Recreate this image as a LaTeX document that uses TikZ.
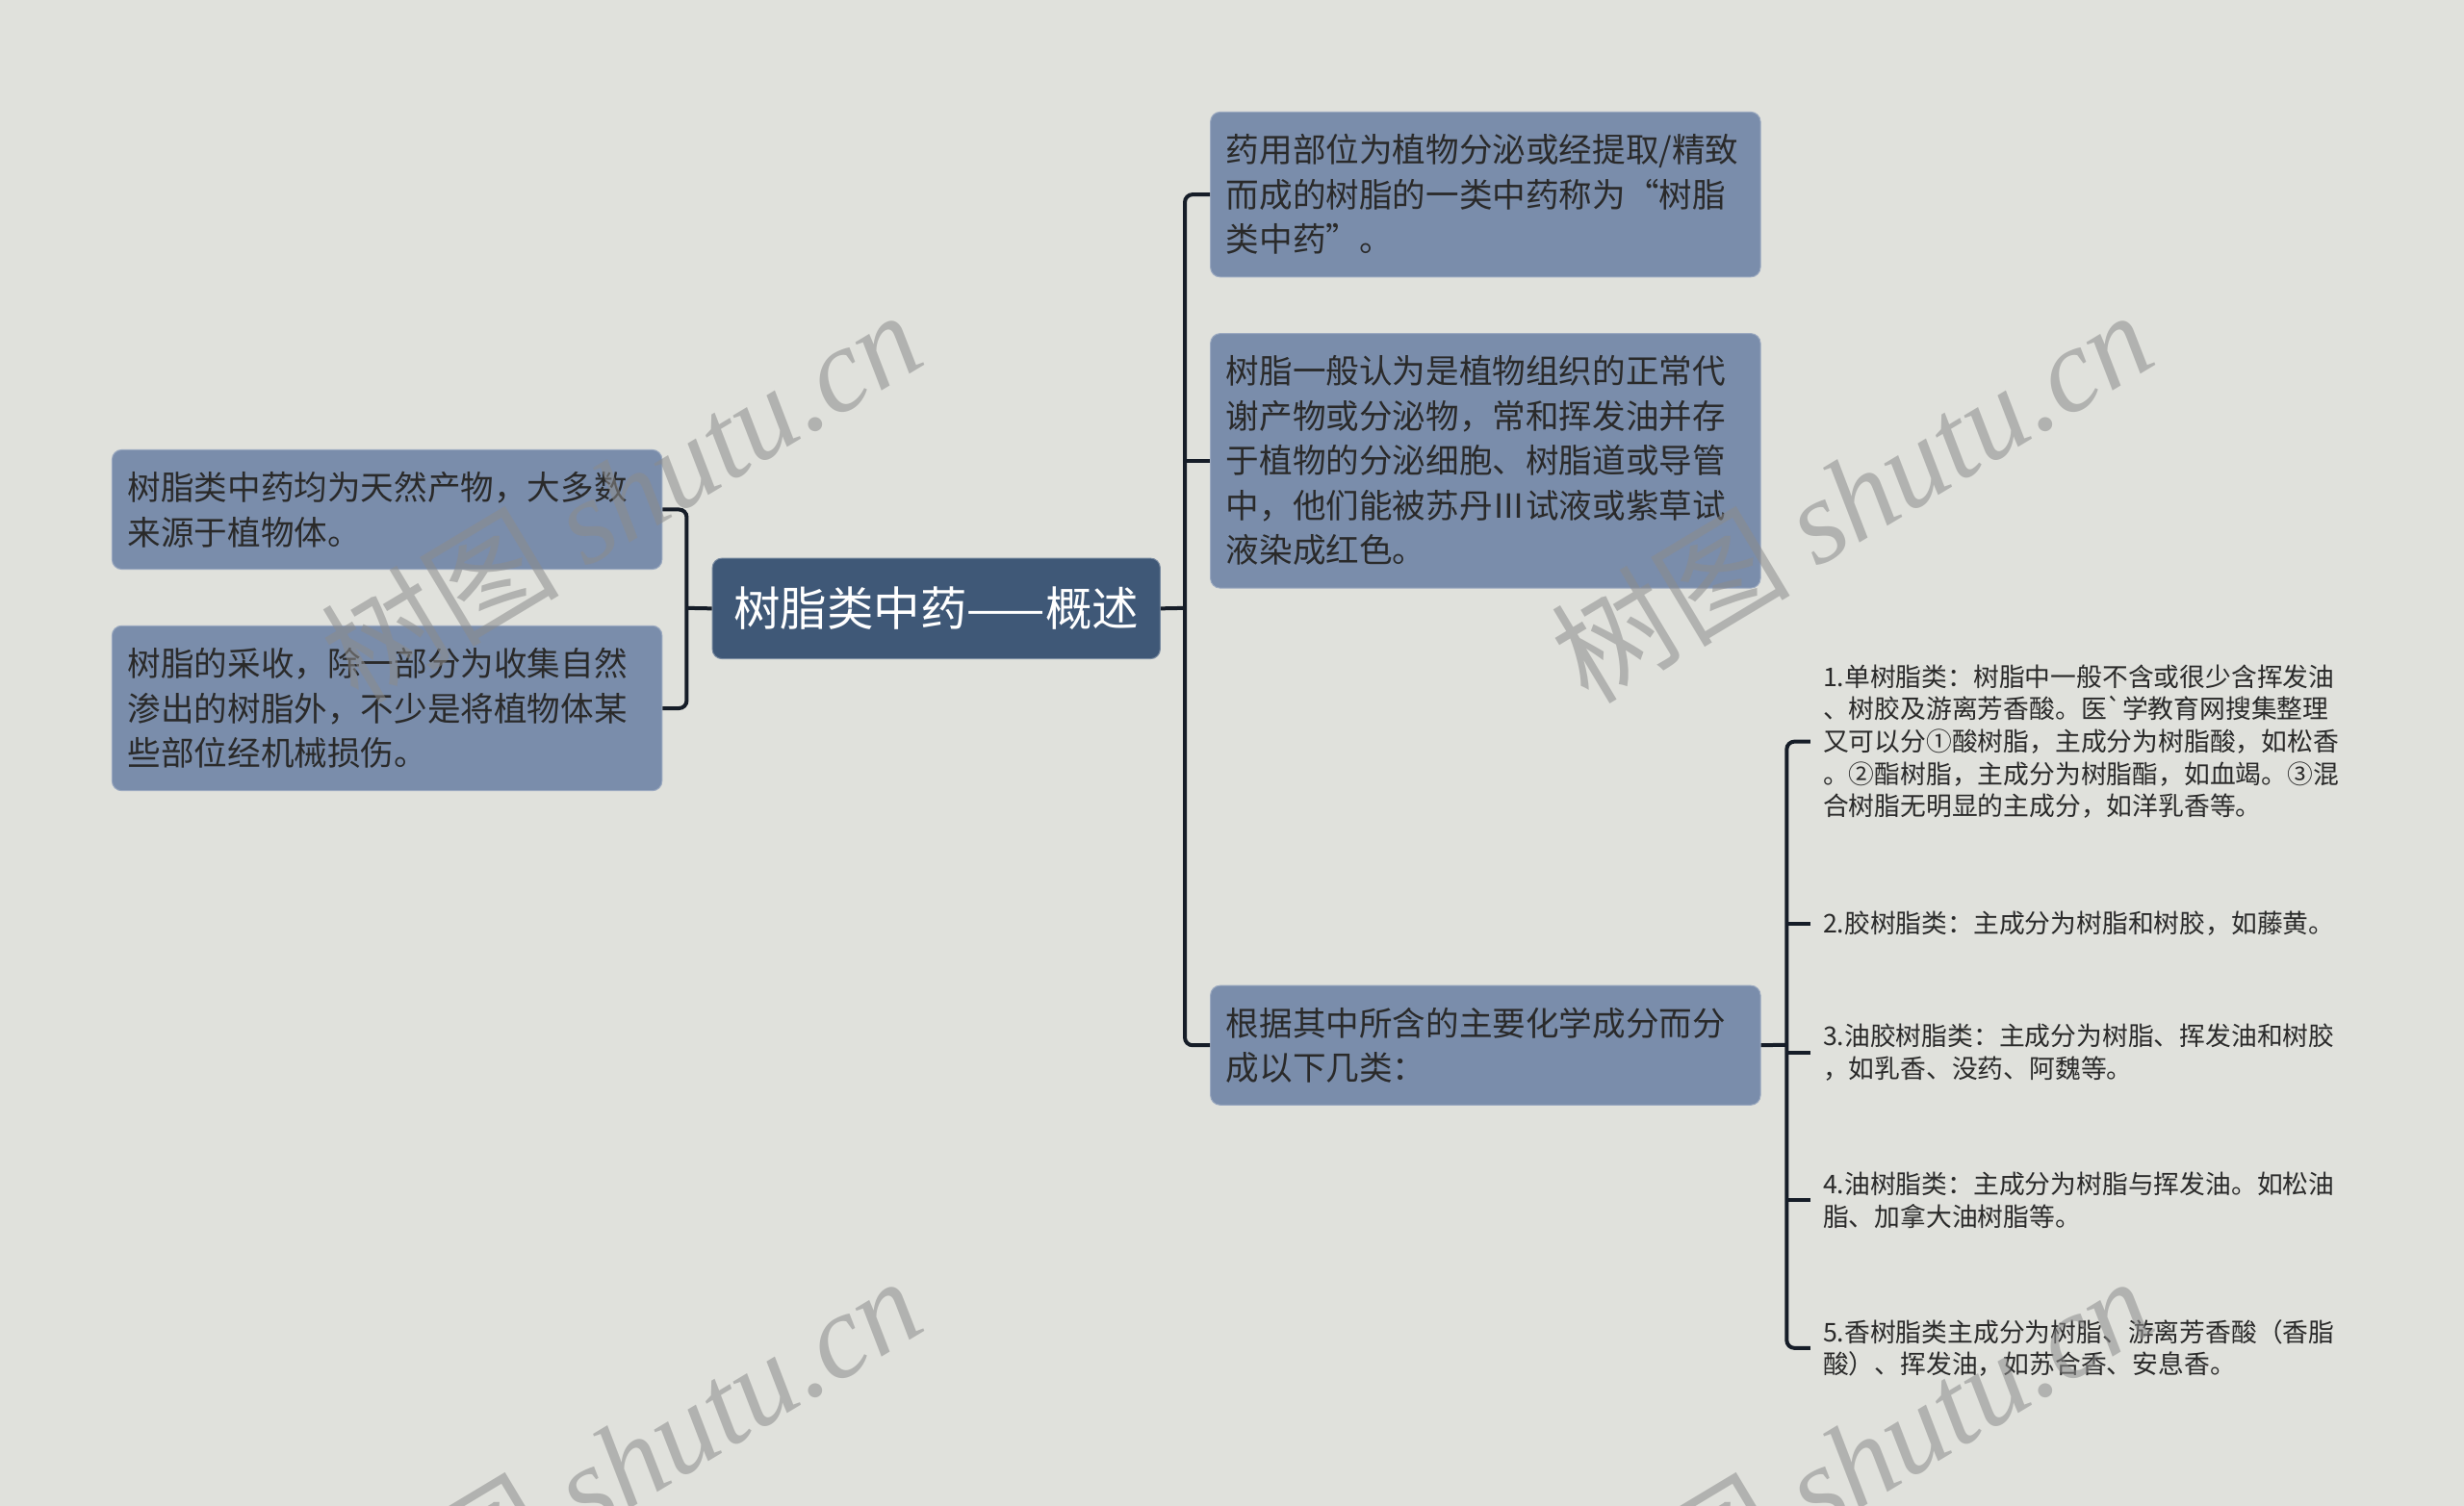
\documentclass[tikz,border=0pt]{standalone}
\usepackage{fontspec}
\newfontfamily\cjk{Noto Sans CJK SC}
\newfontfamily\wmlat{Liberation Serif}
\definecolor{bgc}{HTML}{E0E1DC}
\definecolor{nodec}{HTML}{7A8DAB}
\definecolor{rootc}{HTML}{3F5877}
\definecolor{linec}{HTML}{161D28}
\definecolor{txtc}{HTML}{2A2A2A}
\definecolor{wmc}{HTML}{8C8C8C}
\tikzset{
  topic/.style={rectangle, rounded corners=10pt, fill=nodec, draw=nodec!75!white, line width=1pt,
    text=txtc, font=\cjk\fontsize{34.6pt}{46.5pt}\selectfont, align=left,
    text width=538.8pt, inner xsep=16.3pt, inner ysep=0pt, anchor=north west},
  rootbox/.style={rectangle, rounded corners=10pt, fill=rootc, draw=rootc!70!white, line width=1pt,
    text=white, font=\cjk\fontsize{48.5pt}{55pt}\selectfont,
    minimum width=465.3pt, minimum height=104.5pt, inner sep=0pt, anchor=north west},
  leaf/.style={text=txtc, font=\cjk\fontsize{26.8pt}{33.7pt}\selectfont, align=left,
    anchor=west, inner xsep=13pt, inner ysep=0pt},
  conn/.style={draw=linec, line width=4pt, rounded corners=8pt},
  wm/.style={rotate=31, text=wmc, opacity=0.55, font=\cjk\fontsize{124pt}{124pt}\selectfont, inner sep=0pt}
}
\begin{document}
\begin{tikzpicture}[x=1.6327pt, y=-1.6327pt]
\fill[bgc] (0,0) rectangle (1568,958.5);
\useasboundingbox (0,0) rectangle (1568,958.5);

% root
\node[rootbox] (root) at (453,355) {树脂类中药——概述};

% left topics
\node[topic, minimum height=124.1pt] (l1) at (71,286) {树脂类中药均为天然产物，大多数\\来源于植物体。};
\node[topic, minimum height=171.4pt] (l2) at (71,398) {树脂的采收，除一部分为收集自然\\渗出的树脂外，不少是将植物体某\\些部位经机械损伤。};

% right topics
\node[topic, minimum height=171.4pt] (nA) at (770,71) {药用部位为植物分泌或经提取/精致\\而成的树脂的一类中药称为“树脂\\类中药”。};
\node[topic, minimum height=264.5pt] (nB) at (770,212) {树脂一般认为是植物组织的正常代\\谢产物或分泌物，常和挥发油并存\\于植物的分泌细胞、树脂道或导管\\中，他们能被苏丹Ⅲ试液或紫草试\\液染成红色。};
\node[topic, minimum height=124.1pt] (nC) at (770,627) {根据其中所含的主要化学成分而分\\成以下几类：};

% leaves
\node[leaf] (f1) at (1152,472) {1.单树脂类：树脂中一般不含或很少含挥发油\\、树胶及游离芳香酸。医`学教育网搜集整理\\又可以分①酸树脂，主成分为树脂酸，如松香\\。②酯树脂，主成分为树脂酯，如血竭。③混\\合树脂无明显的主成分，如洋乳香等。};
\node[leaf] (f2) at (1152,588) {2.胶树脂类：主成分为树脂和树胶，如藤黄。};
\node[leaf] (f3) at (1152,670) {3.油胶树脂类：主成分为树脂、挥发油和树胶\\，如乳香、没药、阿魏等。};
\node[leaf] (f4) at (1152,764) {4.油树脂类：主成分为树脂与挥发油。如松油\\脂、加拿大油树脂等。};
\node[leaf] (f5) at (1152,858) {5.香树脂类主成分为树脂、游离芳香酸（香脂\\酸）、挥发油，如苏合香、安息香。};

% buses
\coordinate (lbus) at (437,387);
\coordinate (rbus) at (754,387);
\coordinate (cbus) at (1137,665);

% connectors
\draw[conn] (root.west) -- (lbus);
\draw[conn] (l1.east) -| (lbus) |- (l2.east);
\draw[conn] (root.east) -- (rbus);
\draw[conn] (nA.west) -| (rbus) |- (nC.west);
\draw[conn] (nB.west) -- (nB.west -| rbus);
\draw[conn] (nC.east) -- (cbus);
\draw[conn] (f1.west) -| (cbus) |- (f5.west);
\draw[conn] (f2.west) -- (f2.west -| cbus);
\draw[conn] (f3.west) -- (f3.west -| cbus);
\draw[conn] (f4.west) -- (f4.west -| cbus);

% watermarks
\node[wm] (w1) at (395,315) {树图 {\wmlat\itshape shutu.cn}};
\node[wm] (w2) at (1178,315) {树图 {\wmlat\itshape shutu.cn}};
\node[wm] (w3) at (395,930) {树图 {\wmlat\itshape shutu.cn}};
\node[wm] (w4) at (1178,930) {树图 {\wmlat\itshape shutu.cn}};
\end{tikzpicture}
\end{document}
